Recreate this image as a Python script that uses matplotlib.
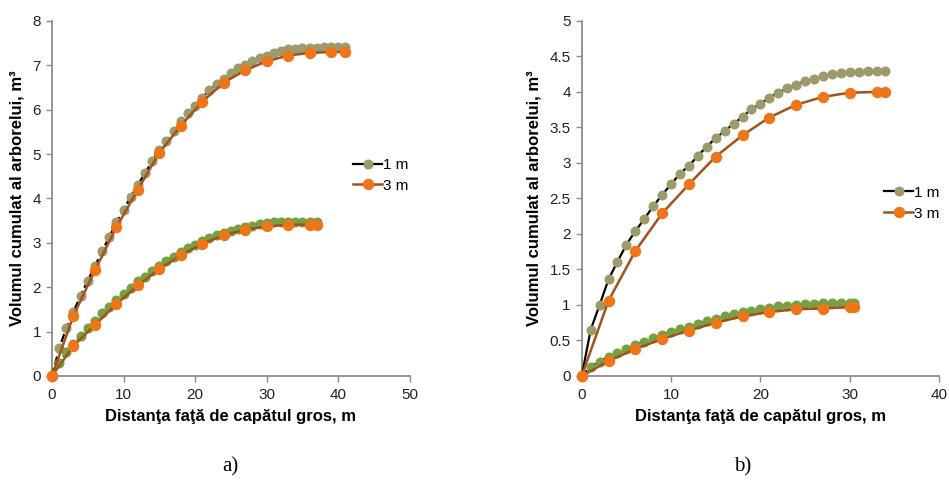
import numpy as np
import matplotlib
matplotlib.use("Agg")
import matplotlib.pyplot as plt

# ── colours ────────────────────────────────────────────────────────────────
TAN = "#9d9a6b"
GREEN = "#76a042"
ORANGE = "#ee7518"
BROWN = "#a3521b"
AXIS_GREY = "#8c8c8c"

plt.rcParams["font.family"] = ["Liberation Sans", "DejaVu Sans"]

# ── a) ─────────────────────────────────────────────────────────────────────
a_x_1m_hi = list(range(0, 42))
a_y_1m_hi = [0.0, 0.62, 1.08, 1.45, 1.81, 2.15, 2.48, 2.81, 3.13, 3.46, 3.75,
             4.03, 4.31, 4.57, 4.84, 5.09, 5.29, 5.51, 5.74, 5.93, 6.09, 6.27,
             6.44, 6.57, 6.70, 6.83, 6.93, 7.01, 7.09, 7.16, 7.22, 7.28, 7.32,
             7.36, 7.37, 7.39, 7.40, 7.40, 7.41, 7.41, 7.42, 7.42]
a_x_3m_hi = [0, 3, 6, 9, 12, 15, 18, 21, 24, 27, 30, 33, 36, 39, 41]
a_y_3m_hi = [0.0, 1.36, 2.38, 3.35, 4.20, 5.03, 5.64, 6.18, 6.61, 6.89, 7.09,
             7.22, 7.28, 7.30, 7.30]
a_x_1m_lo = list(range(0, 38))
a_y_1m_lo = [0.0, 0.30, 0.53, 0.72, 0.90, 1.08, 1.24, 1.41, 1.56, 1.72, 1.85,
             1.99, 2.13, 2.24, 2.37, 2.48, 2.60, 2.69, 2.79, 2.88, 2.96, 3.03,
             3.11, 3.17, 3.22, 3.27, 3.32, 3.36, 3.39, 3.42, 3.45, 3.46, 3.47,
             3.47, 3.48, 3.48, 3.48, 3.48]
a_x_3m_lo = [0, 3, 6, 9, 12, 15, 18, 21, 24, 27, 30, 33, 36, 37]
a_y_3m_lo = [0.0, 0.68, 1.15, 1.62, 2.04, 2.41, 2.72, 2.98, 3.17, 3.30, 3.37,
             3.41, 3.41, 3.41]

# ── b) ─────────────────────────────────────────────────────────────────────
b_x_1m_hi = list(range(0, 35))
b_y_1m_hi = [0.0, 0.65, 1.00, 1.36, 1.61, 1.85, 2.04, 2.21, 2.39, 2.55, 2.70,
             2.85, 2.96, 3.10, 3.23, 3.35, 3.45, 3.55, 3.65, 3.76, 3.83, 3.92,
             3.99, 4.05, 4.10, 4.15, 4.18, 4.22, 4.25, 4.26, 4.28, 4.28, 4.29,
             4.29, 4.29]
b_x_3m_hi = [0, 3, 6, 9, 12, 15, 18, 21, 24, 27, 30, 33, 34]
b_y_3m_hi = [0.0, 1.06, 1.76, 2.29, 2.70, 3.09, 3.39, 3.64, 3.82, 3.93, 3.99,
             4.00, 4.00]
b_x_1m_lo = list(range(0, 31)) + [30.5]
b_y_1m_lo = [0.0, 0.13, 0.20, 0.27, 0.33, 0.38, 0.44, 0.48, 0.53, 0.58, 0.62,
             0.66, 0.69, 0.73, 0.77, 0.80, 0.84, 0.87, 0.90, 0.92, 0.94, 0.96,
             0.98, 0.99, 1.00, 1.01, 1.02, 1.03, 1.03, 1.03, 1.03, 1.03]
b_x_3m_lo = [0, 3, 6, 9, 12, 15, 18, 21, 24, 27, 30, 30.5]
b_y_3m_lo = [0.0, 0.21, 0.38, 0.52, 0.64, 0.75, 0.84, 0.90, 0.94, 0.95, 0.97,
             0.97]

XLABEL = "Distanţa faţă de capătul gros, m"
YLABEL = "Volumul cumulat al arborelui, m³"


def style_axes(ax, xmax, xstep, ymax, ystep):
    ax.set_xlim(0, xmax)
    ax.set_ylim(0, ymax)
    ax.set_xticks(np.arange(0, xmax + 0.01, xstep))
    ax.set_yticks(np.arange(0, ymax + 0.01, ystep))
    ax.set_yticklabels([f"{v:g}" for v in np.arange(0, ymax + 0.01, ystep)])
    for side in ("top", "right"):
        ax.spines[side].set_visible(False)
    for side in ("left", "bottom"):
        ax.spines[side].set_color(AXIS_GREY)
        ax.spines[side].set_linewidth(1.3)
    ax.tick_params(direction="out", length=4, width=1, color=AXIS_GREY,
                   labelsize=11, labelcolor="#222222", pad=5)
    ax.tick_params(axis="y", pad=4)
    ax.set_xlabel(XLABEL, fontsize=12, fontweight="bold", labelpad=5)
    ax.set_ylabel(YLABEL, fontsize=12, fontweight="bold", labelpad=6)


def draw_panel(ax, hi1, hi3, lo1, lo3, hi_style):
    ms1, ms3 = 6.2, 7.2
    ax.plot(*hi1, color="black", ls=hi_style, lw=1.6, marker="o", ms=ms1,
            mfc=TAN, mec=TAN, zorder=3, label="1 m", clip_on=False)
    ax.plot(*hi3, color=BROWN, lw=1.8, marker="o", ms=ms3,
            mfc=ORANGE, mec=ORANGE, zorder=4, label="3 m", clip_on=False)
    ax.plot(*lo1, color="black", ls=(0, (1, 1.5)), lw=1.6, marker="o", ms=ms1,
            mfc=GREEN, mec=GREEN, zorder=3, clip_on=False)
    ax.plot(*lo3, color=BROWN, lw=1.8, marker="o", ms=ms3,
            mfc=ORANGE, mec=ORANGE, zorder=4, clip_on=False)


fig = plt.figure(figsize=(9.49, 4.87), dpi=100)
ax_a = fig.add_axes([0.0548, 0.228, 0.377, 0.729])
ax_b = fig.add_axes([0.613, 0.228, 0.3765, 0.729])

draw_panel(ax_a, (a_x_1m_hi, a_y_1m_hi), (a_x_3m_hi, a_y_3m_hi),
           (a_x_1m_lo, a_y_1m_lo), (a_x_3m_lo, a_y_3m_lo), "--")
style_axes(ax_a, 50, 10, 8, 1)

draw_panel(ax_b, (b_x_1m_hi, b_y_1m_hi), (b_x_3m_hi, b_y_3m_hi),
           (b_x_1m_lo, b_y_1m_lo), (b_x_3m_lo, b_y_3m_lo), "-")
style_axes(ax_b, 40, 10, 5, 0.5)

# legend handles always show a solid black line for "1 m"
for ax, anchor in ((ax_a, (0.825, 0.565)), (ax_b, (0.83, 0.487))):
    handles, labels = ax.get_legend_handles_labels()
    style = handles[0].get_linestyle()
    handles[0].set_linestyle("-")
    ax.legend(handles, labels, loc="center left", bbox_to_anchor=anchor,
              frameon=False, fontsize=11, handlelength=1.9,
              handletextpad=0.05, labelspacing=0.45, borderaxespad=0)
    handles[0].set_linestyle(style)

fig.text(0.243, 0.042, "a)", family="Liberation Serif", fontsize=15,
         ha="center", va="center")
fig.text(0.783, 0.042, "b)", family="Liberation Serif", fontsize=15,
         ha="center", va="center")

fig.savefig("out.png", dpi=100)
